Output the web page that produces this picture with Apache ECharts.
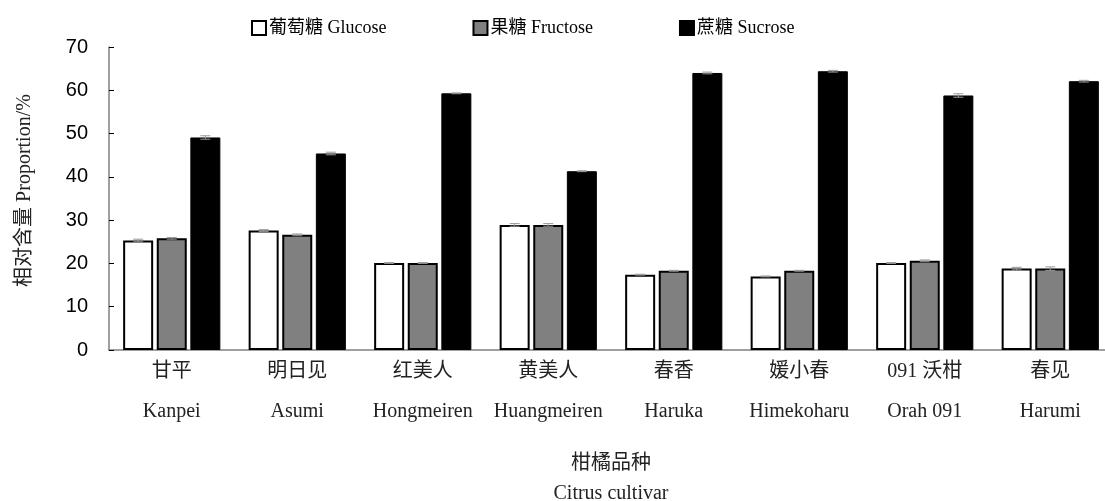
<!DOCTYPE html>
<html>
<head>
<meta charset="utf-8">
<script src="https://cdn.jsdelivr.net/npm/echarts@6/dist/echarts.min.js"></script>
<style>
  html, body { margin: 0; padding: 0; background: #fff; }
  #main { width: 1105px; height: 501px; }
</style>
</head>
<body>
<div id="main"></div>
<script>
  var cultivarCn = ['甘平', '明日见', '红美人', '黄美人', '春香', '媛小春', '091 沃柑', '春见'];
  var cultivarEn = ['Kanpei', 'Asumi', 'Hongmeiren', 'Huangmeiren', 'Haruka', 'Himekoharu', 'Orah 091', 'Harumi'];

  var glucose = [25.3, 27.6, 20.1, 28.9, 17.4, 17.0, 20.1, 18.8];
  var fructose = [25.8, 26.6, 20.1, 28.9, 18.3, 18.3, 20.6, 18.8];
  var sucrose = [49.1, 45.4, 59.3, 41.3, 64.0, 64.4, 58.8, 62.1];

  var glucoseErr = [0.3, 0.2, 0.1, 0.3, 0.1, 0.1, 0.1, 0.3];
  var fructoseErr = [0.2, 0.2, 0.1, 0.3, 0.1, 0.1, 0.2, 0.4];
  var sucroseErr = [0.4, 0.3, 0.1, 0.1, 0.2, 0.2, 0.4, 0.2];

  var serifFont = '"Liberation Serif", "Times New Roman", "Noto Sans CJK SC", serif';

  var chart = echarts.init(document.getElementById('main'));

  // error bar drawn as small gray caps on top of each bar
  function errorSeries(name, values, errs, offset) {
    var data = values.map(function (v, i) {
      return [i, v - errs[i], v + errs[i]];
    });
    return {
      name: name + ' err',
      type: 'custom',
      silent: true,
      z: 10,
      renderItem: function (params, api) {
        var lo = api.coord([api.value(0), api.value(1)]);
        var hi = api.coord([api.value(0), api.value(2)]);
        var x = lo[0] + offset;
        var hw = 5;
        var st = { stroke: '#999', lineWidth: 1 };
        return {
          type: 'group',
          children: [
            { type: 'line', shape: { x1: x, y1: lo[1], x2: x, y2: hi[1] }, style: st },
            { type: 'line', shape: { x1: x - hw, y1: lo[1], x2: x + hw, y2: lo[1] }, style: st },
            { type: 'line', shape: { x1: x - hw, y1: hi[1], x2: x + hw, y2: hi[1] }, style: st }
          ]
        };
      },
      encode: { x: 0, y: [1, 2] },
      data: data
    };
  }

  var option = {
    backgroundColor: '#fff',
    animation: false,
    grid: { left: 109, right: -8, top: 47, bottom: 151, outerBoundsMode: 'none' },
    legend: {
      top: 14,
      left: 246,
      itemGap: 86,
      itemWidth: 14,
      itemHeight: 14,
      icon: 'rect',
      textStyle: { fontFamily: serifFont, fontSize: 18, color: '#000', padding: [0, 0, 0, -2] },
      data: ['葡萄糖 Glucose', '果糖 Fructose', '蔗糖 Sucrose']
    },
    xAxis: {
      type: 'category',
      data: cultivarCn.map(function (c, i) { return c + '\n' + cultivarEn[i]; }),
      axisLine: { lineStyle: { color: '#808080', width: 1.5 } },
      axisTick: { inside: true, length: 5, lineStyle: { color: '#000' } },
      axisLabel: {
        margin: 2,
        fontFamily: serifFont,
        fontSize: 20,
        color: '#222',
        lineHeight: 40,
        interval: 0
      },
      name: '柑橘品种\nCitrus cultivar',
      nameLocation: 'middle',
      nameGap: 99,
      nameTextStyle: { fontFamily: serifFont, fontSize: 20, color: '#222', lineHeight: 30 }
    },
    yAxis: {
      type: 'value',
      min: 0,
      max: 70,
      interval: 10,
      splitLine: { show: false },
      axisLine: { show: true, lineStyle: { color: '#808080', width: 1.5 } },
      axisTick: { show: true, inside: true, length: 5, lineStyle: { color: '#000' } },
      axisLabel: {
        margin: 21,
        fontFamily: '"Liberation Sans", Arial, sans-serif',
        fontSize: 20,
        color: '#000'
      },
      name: '相对含量 Proportion/%',
      nameLocation: 'middle',
      nameGap: 74,
      nameRotate: 90,
      nameTextStyle: { fontFamily: serifFont, fontSize: 20, color: '#222', padding: [0, 0, 0, 16] }
    },
    series: [
      {
        name: '葡萄糖 Glucose',
        type: 'bar',
        barWidth: 30,
        barGap: '12%',
        itemStyle: { color: '#fff', borderColor: '#000', borderWidth: 2 },
        data: glucose
      },
      {
        name: '果糖 Fructose',
        type: 'bar',
        barWidth: 30,
        barGap: '12%',
        itemStyle: { color: '#808080', borderColor: '#000', borderWidth: 2 },
        data: fructose
      },
      {
        name: '蔗糖 Sucrose',
        type: 'bar',
        barWidth: 30,
        barGap: '12%',
        itemStyle: { color: '#000', borderColor: '#000', borderWidth: 1 },
        data: sucrose
      },
      errorSeries('葡萄糖 Glucose', glucose, glucoseErr, -33.6),
      errorSeries('果糖 Fructose', fructose, fructoseErr, 0),
      errorSeries('蔗糖 Sucrose', sucrose, sucroseErr, 33.6)
    ]
  };

  chart.setOption(option);
</script>
</body>
</html>
